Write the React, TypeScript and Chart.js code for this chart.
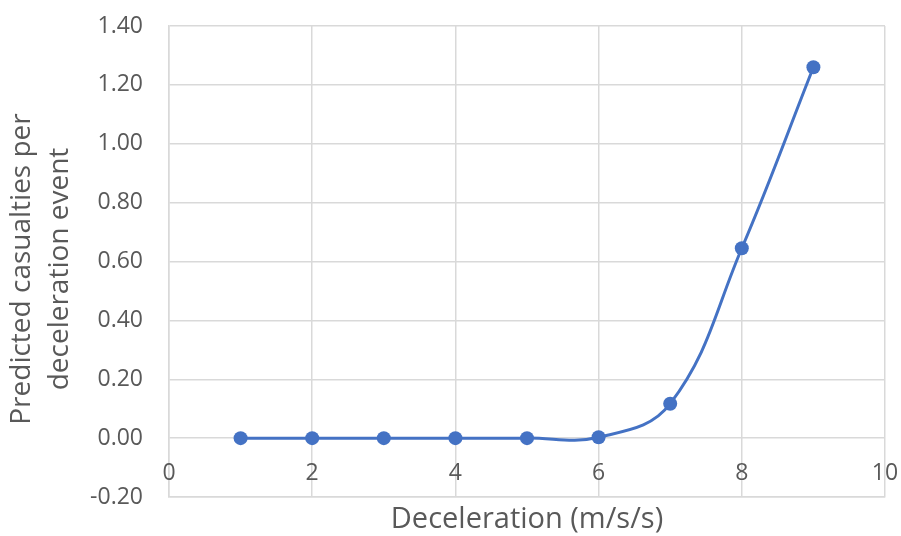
import React, { useEffect, useRef } from "react";
import { Chart, registerables } from "chart.js";

Chart.register(...registerables);

const xValues = [1, 2, 3, 4, 5, 6, 7, 8, 9];
const yValues = [0, 0, 0, 0, 0, 0.003, 0.117, 0.645, 1.26];
const xTicks = [0, 2, 4, 6, 8, 10];
const yTitleLines = ["Predicted casualties per", "deceleration event"];
const xTitle = "Deceleration (m/s/s)";

const FONT = "'Open Sans', sans-serif";
const TEXT = "#595959";
const GRID = "#d9d9d9";
const BLUE = "#4472c4";

const textPlugin = {
  id: "textPlugin",
  afterDraw(chart: any) {
    const { ctx, scales } = chart;
    const xs = scales.x;
    const ys = scales.y;
    ctx.save();
    ctx.fillStyle = TEXT;
    // x tick labels just below the zero line
    ctx.font = `23px ${FONT}`;
    ctx.textAlign = "center";
    ctx.textBaseline = "middle";
    const y0 = ys.getPixelForValue(0);
    xTicks.forEach((v) => {
      ctx.fillText(String(v), xs.getPixelForValue(v), y0 + 35);
    });
    // x title
    ctx.font = `29px ${FONT}`;
    ctx.fillText(xTitle, (chart.chartArea.left + chart.chartArea.right) / 2, 520);
    // y title
    ctx.translate(0, 269);
    ctx.rotate(-Math.PI / 2);
    ctx.font = `28px ${FONT}`;
    ctx.fillText(yTitleLines[0], 0, 22);
    ctx.fillText(yTitleLines[1], 0, 60);
    ctx.restore();
  },
};

export default function App() {
  const ref = useRef<HTMLCanvasElement | null>(null);
  useEffect(() => {
    document.body.style.margin = "0";
    const canvas = ref.current!;
    const chart = new Chart(canvas, {
      type: "line",
      data: {
        datasets: [
          {
            data: xValues.map((x, i) => ({ x, y: yValues[i] })),
            borderColor: BLUE,
            backgroundColor: BLUE,
            borderWidth: 3,
            pointRadius: 7,
            pointHoverRadius: 7,
            pointBackgroundColor: BLUE,
            pointBorderWidth: 0,
            tension: 0.4,
            fill: false,
          },
        ],
      },
      options: {
        animation: false,
        responsive: false,
        maintainAspectRatio: false,
        layout: { padding: { left: 0, right: 16, top: 26, bottom: 39 } },
        plugins: { legend: { display: false }, tooltip: { enabled: false } },
        scales: {
          x: {
            type: "linear",
            min: 0,
            max: 10,
            ticks: { display: false, stepSize: 2 },
            grid: { color: GRID, lineWidth: 1.5, drawTicks: false },
            border: { color: GRID, width: 1.5 },
            afterFit: (s: any) => {
              s.height = 0;
              s.paddingLeft = 0;
              s.paddingRight = 0;
            },
          },
          y: {
            min: -0.2,
            max: 1.4,
            ticks: {
              stepSize: 0.2,
              padding: 26,
              color: TEXT,
              font: { family: FONT, size: 23 },
              callback: (v: any) => {
                const n = Math.abs(Number(v)) < 1e-9 ? 0 : Number(v);
                return n.toFixed(2);
              },
            },
            grid: { color: GRID, lineWidth: 1.5, drawTicks: false },
            border: { color: GRID, width: 1.5 },
            afterFit: (s: any) => {
              s.width = 169;
              s.paddingTop = 0;
              s.paddingBottom = 0;
            },
          },
        },
      },
      plugins: [textPlugin],
    });
    return () => chart.destroy();
  }, []);
  return (
    <div style={{ width: 901, height: 536 }}>
      <canvas ref={ref} width={901} height={536} />
    </div>
  );
}
